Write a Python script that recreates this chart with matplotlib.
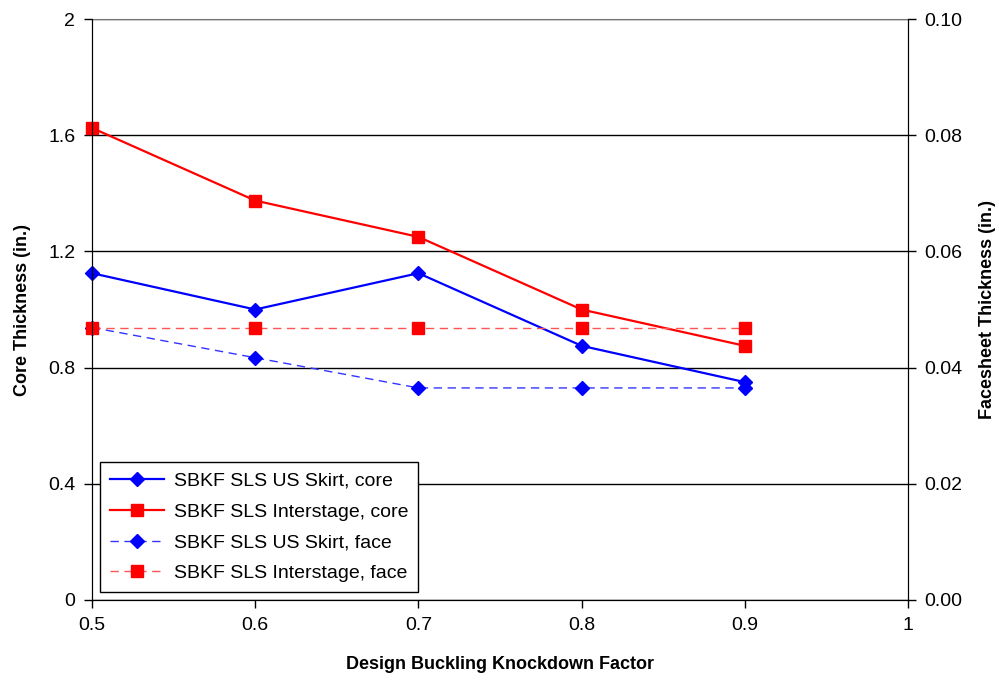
import numpy as np
from matplotlib import pyplot as plt

plt.rcParams['font.family'] = ['Liberation Sans', 'DejaVu Sans']

# knockdown factors
kdf = [0.5, 0.6, 0.7, 0.8, 0.9]

# core thickness (in.)
skirt_core = [1.125, 1.0, 1.125, 0.875, 0.75]
inter_core = [1.625, 1.375, 1.25, 1.0, 0.875]

# facesheet thickness (in.)
skirt_face = [0.0469, 0.0417, 0.0365, 0.0365, 0.0365]
inter_face = [0.0469, 0.0469, 0.0469, 0.0469, 0.0469]

fig = plt.figure(figsize=(9.99, 6.83), dpi=100)
ax = fig.add_axes([92/999, 83/683, 816/999, 581/683])
ax2 = ax.twinx()

l1, = ax.plot(kdf, skirt_core, color='#0000ff', lw=1.6, marker='D', ms=7,
              label='SBKF SLS US Skirt, core', clip_on=False)
l2, = ax.plot(kdf, inter_core, color='#ff0000', lw=1.6, marker='s', ms=9,
              label='SBKF SLS Interstage, core', clip_on=False)
l3, = ax2.plot(kdf, skirt_face, color='#3333ff', lw=1.0, ls=(0, (6, 4)),
               marker='D', ms=7, mfc='#0000ff', mec='#0000ff',
               label='SBKF SLS US Skirt, face', clip_on=False)
l4, = ax2.plot(kdf, inter_face, color='#ff5555', lw=1.0, ls=(0, (6, 4)),
               marker='s', ms=9, mfc='#ff0000', mec='#ff0000',
               label='SBKF SLS Interstage, face', clip_on=False)

ax.set_xlim(0.5, 1.0)
ax.set_ylim(0, 2)
ax2.set_ylim(0, 0.10)
ax.set_xticks([0.5, 0.6, 0.7, 0.8, 0.9, 1.0])
ax.set_xticklabels(['0.5', '0.6', '0.7', '0.8', '0.9', '1'])
ax.set_yticks([0, 0.4, 0.8, 1.2, 1.6, 2.0])
ax.set_yticklabels(['0', '0.4', '0.8', '1.2', '1.6', '2'])
ax2.set_yticks([0, 0.02, 0.04, 0.06, 0.08, 0.10])
ax2.set_yticklabels(['0.00', '0.02', '0.04', '0.06', '0.08', '0.10'])

ax.yaxis.grid(True, color='black', lw=1)
ax.set_axisbelow(True)
for a in (ax, ax2):
    a.spines['top'].set_visible(False)
    a.tick_params(labelsize=14, length=6, width=1, direction='out', pad=6)
ax.spines['top'].set_visible(True)
ax.spines['top'].set_color('#777777')

ax.set_xlabel('Design Buckling Knockdown Factor', fontsize=13, fontweight='bold', labelpad=16)
ax.set_ylabel('Core Thickness (in.)', fontsize=13, fontweight='bold', labelpad=12)
ax2.set_ylabel('Facesheet Thickness (in.)', fontsize=13, fontweight='bold', labelpad=12)

leg = ax2.legend(handles=[l1, l2, l3, l4], loc='lower left',
                 bbox_to_anchor=(0.0098, 0.0138), borderaxespad=0,
                 fontsize=14, frameon=True,
                 fancybox=False, edgecolor='black', framealpha=1,
                 handlelength=2.8, handletextpad=0.5, labelspacing=0.68,
                 borderpad=0.5)
leg.get_frame().set_linewidth(1)

plt.savefig('out.png', dpi=100)
